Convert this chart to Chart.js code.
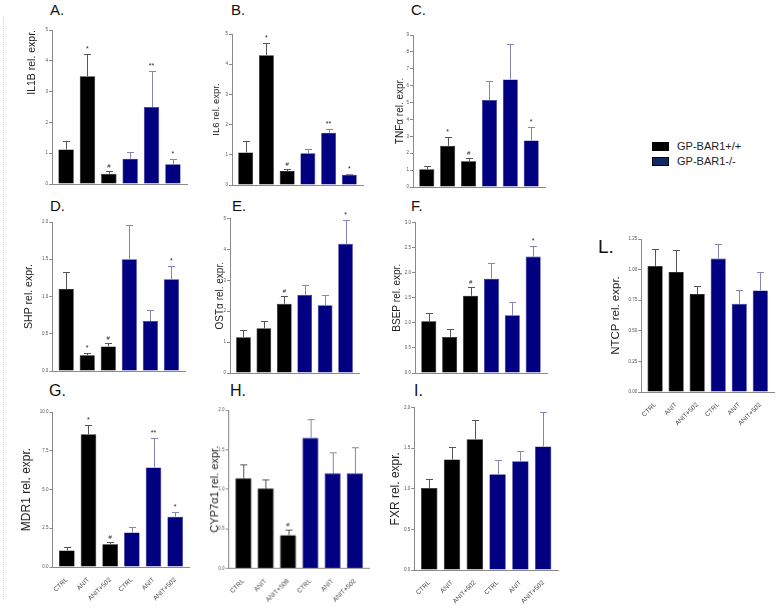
<!DOCTYPE html>
<html>
<head>
<meta charset="utf-8">
<script src="https://cdn.jsdelivr.net/npm/chart.js@4.4.1/dist/chart.umd.min.js"></script>
<style>
  body { margin: 0; background: #fff; }
  #page { position: relative; width: 776px; height: 613px; overflow: hidden; font-family: 'Liberation Sans', Arial, sans-serif; }
  .panel { position: absolute; }
  .tag { position: absolute; line-height: 1; color: #111; white-space: nowrap; }
  .frame { position: absolute; left: 3px; top: 17px; height: 582px; border-left: 1px dotted #d0d0d0; }
  .key { position: absolute; width: 15px; height: 7px; border: 1px solid #000; }
  .keytext { position: absolute; font-size: 11px; line-height: 1; color: #222; }
</style>
</head>
<body>
<div id="page">
  <div class="frame"></div>
  <div class="key" style="left:652px; top:142px; background:#000;"></div>
  <div class="keytext" style="left:677px; top:141px;">GP-BAR1+/+</div>
  <div class="key" style="left:652px; top:157px; background:#0b2a66;"></div>
  <div class="keytext" style="left:677px; top:156px;">GP-BAR1-/-</div>
</div>
<script>
// groups: 3 GP-BAR1+/+ then 3 GP-BAR1-/-
const categories = ['CTRL', 'ANIT', 'ANIT+502', 'CTRL', 'ANIT', 'ANIT+502'];
const categoriesH = ['CTRL', 'ANIT', 'ANIT+508', 'CTRL', 'ANIT', 'ANIT+502'];

const il1b = [1.12, 3.5, 0.33, 0.82, 2.5, 0.64];
const il1bErr = [0.27, 0.72, 0.08, 0.21, 1.18, 0.16];
const il1bSig = ['', '*', '#', '', '**', '*'];

const il6 = [1.08, 4.3, 0.46, 1.05, 1.73, 0.34];
const il6Err = [0.39, 0.39, 0.07, 0.13, 0.11, 0.03];
const il6Sig = ['', '*', '#', '', '**', '*'];

const tnfa = [1.05, 2.44, 1.52, 5.15, 6.37, 2.76];
const tnfaErr = [0.19, 0.54, 0.18, 1.14, 2.07, 0.77];
const tnfaSig = ['', '*', '#', '', '', '*'];

const shp = [1.10, 0.21, 0.33, 1.50, 0.67, 1.23];
const shpErr = [0.23, 0.03, 0.05, 0.46, 0.15, 0.18];
const shpSig = ['', '*', '#', '', '', '*'];

const osta = [1.16, 1.45, 2.24, 2.53, 2.19, 4.18];
const ostaErr = [0.22, 0.22, 0.26, 0.31, 0.34, 0.78];
const ostaSig = ['', '', '#', '', '', '*'];

const bsep = [1.03, 0.72, 1.54, 1.88, 1.15, 2.32];
const bsepErr = [0.16, 0.15, 0.17, 0.31, 0.26, 0.22];
const bsepSig = ['', '', '#', '', '', '*'];

const mdr1 = [1.07, 8.57, 1.46, 2.23, 6.42, 3.25];
const mdr1Err = [0.21, 0.62, 0.17, 0.34, 1.93, 0.28];
const mdr1Sig = ['', '*', '#', '', '**', '*'];

const cyp7a1 = [1.14, 1.01, 0.42, 1.65, 1.20, 1.20];
const cyp7a1Err = [0.17, 0.11, 0.07, 0.23, 0.27, 0.33];
const cyp7a1Sig = ['', '', '#', '', '', ''];

const fxr = [1.01, 1.36, 1.61, 1.18, 1.34, 1.52];
const fxrErr = [0.11, 0.16, 0.24, 0.17, 0.13, 0.43];
const fxrSig = ['', '', '', '', '', ''];

const ntcp = [1.03, 0.98, 0.80, 1.09, 0.72, 0.83];
const ntcpErr = [0.14, 0.18, 0.07, 0.12, 0.11, 0.15];
const ntcpSig = ['', '', '', '', '', ''];

// tick labels
const ticks0to5 = ['0', '1', '2', '3', '4', '5'];
const ticks0to9 = ['0', '1', '2', '3', '4', '5', '6', '7', '8', '9'];
const ticks0to2 = ['0.0', '0.5', '1.0', '1.5', '2.0'];
const ticks0to3 = ['0.0', '0.5', '1.0', '1.5', '2.0', '2.5', '3.0'];
const ticks0to10 = ['0.0', '2.5', '5.0', '7.5', '10.0'];
const ticks0to125 = ['0.00', '0.25', '0.50', '0.75', '1.00', '1.25'];

const black = '#000000';
const navy = '#000080';

Chart.defaults.font.family = "'Liberation Sans', Arial, sans-serif";
Chart.defaults.animation = false;

// error bars + significance marks on top of each bar
const errorBars = {
    id: 'errorBars',
    afterDatasetsDraw(chart, args, opts) {
        const ctx = chart.ctx;
        const y = chart.scales.y;
        const values = chart.data.datasets[0].data;
        ctx.save();
        chart.getDatasetMeta(0).data.forEach((bar, i) => {
            const x = Math.round(bar.x) + 0.5;
            const yTop = Math.round(y.getPixelForValue(values[i] + opts.err[i])) + 0.5;
            ctx.strokeStyle = i < 3 ? '#555555' : '#8585b8';
            ctx.lineWidth = 1;
            ctx.beginPath();
            ctx.moveTo(x, bar.y);
            ctx.lineTo(x, yTop);
            ctx.moveTo(x - 3.5, yTop);
            ctx.lineTo(x + 3.5, yTop);
            ctx.stroke();
            const mark = opts.sig[i];
            if (mark) {
                ctx.fillStyle = '#222';
                ctx.textAlign = 'center';
                ctx.textBaseline = 'bottom';
                ctx.font = mark === '#' ? "6px 'Liberation Sans'" : "7px 'Liberation Sans'";
                ctx.fillText(mark, bar.x, yTop - (mark === '#' ? 2 : 2));
            }
        });
        ctx.restore();
    }
};

const PAD = 0.66; // gap before first / after last bar, in categories

const panels = [
    { tag: 'A.', tagX: 50, tagY: 15, tagSize: 15, title: 'IL1B rel. expr.', labels: categories, values: il1b, err: il1bErr, sig: il1bSig, ticks: ticks0to5,
      titleX: 32.3, titleSize: 10.5, align: 'end', axisX: 52, top: 30, bottom: 184, right: 187, xLabels: false },
    { tag: 'B.', tagX: 231, tagY: 15, tagSize: 15, title: 'IL6 rel. expr.', labels: categories, values: il6, err: il6Err, sig: il6Sig, ticks: ticks0to5,
      titleX: 216.7, titleSize: 9.5, align: 'center', axisX: 232, top: 34, bottom: 185, right: 363, xLabels: false },
    { tag: 'C.', tagX: 411, tagY: 15, tagSize: 15, title: 'TNFα rel. expr.', labels: categories, values: tnfa, err: tnfaErr, sig: tnfaSig, ticks: ticks0to9,
      titleX: 400, titleSize: 10, align: 'center', axisX: 413, top: 35, bottom: 187, right: 545, xLabels: false },
    { tag: 'D.', tagX: 50, tagY: 211, tagSize: 15, title: 'SHP rel. expr.', labels: categories, values: shp, err: shpErr, sig: shpSig, ticks: ticks0to2,
      titleX: 29, titleSize: 10.5, align: 'center', axisX: 52, top: 222, bottom: 371, right: 185, xLabels: false },
    { tag: 'E.', tagX: 232, tagY: 211, tagSize: 15, title: 'OSTα rel. expr.', labels: categories, values: osta, err: ostaErr, sig: ostaSig, ticks: ticks0to5,
      titleX: 220, titleSize: 10, align: 'center', axisX: 230, top: 218.5, bottom: 373, right: 359, xLabels: false },
    { tag: 'F.', tagX: 411, tagY: 211, tagSize: 15, title: 'BSEP rel. expr.', labels: categories, values: bsep, err: bsepErr, sig: bsepSig, ticks: ticks0to3,
      titleX: 397, titleSize: 10, align: 'center', axisX: 415, top: 222.5, bottom: 373, right: 547, xLabels: false },
    { tag: 'G.', tagX: 49, tagY: 397, tagSize: 16, title: 'MDR1 rel. expr.', labels: categories, values: mdr1, err: mdr1Err, sig: mdr1Sig, ticks: ticks0to10,
      titleX: 25.7, titleSize: 12, align: 'center', axisX: 52, top: 412, bottom: 567, right: 189, xLabels: true },
    { tag: 'H.', tagX: 230, tagY: 397, tagSize: 16, title: 'CYP7α1 rel. expr.', labels: categoriesH, values: cyp7a1, err: cyp7a1Err, sig: cyp7a1Sig, ticks: ticks0to2,
      titleX: 215, titleSize: 11, align: 'center', axisX: 229, top: 410, bottom: 567.5, right: 369, xLabels: true },
    { tag: 'I.', tagX: 414, tagY: 397, tagSize: 16, title: 'FXR rel. expr.', labels: categories, values: fxr, err: fxrErr, sig: fxrSig, ticks: ticks0to2,
      titleX: 395, titleSize: 12, align: 'center', axisX: 414, top: 407.5, bottom: 570, right: 558, xLabels: true },
    { tag: 'L.', tagX: 598, tagY: 253, tagSize: 19, title: 'NTCP rel. expr.', labels: categories, values: ntcp, err: ntcpErr, sig: ntcpSig, ticks: ticks0to125,
      titleX: 615.7, titleSize: 11.5, align: 'center', axisX: 641, top: 239, bottom: 392, right: 774, xLabels: true }
];

const page = document.getElementById('page');

function makePanel(p) {
    const tag = document.createElement('div');
    tag.className = 'tag';
    tag.textContent = p.tag;
    tag.style.fontSize = p.tagSize + 'px';
    tag.style.left = p.tagX + 'px';
    tag.style.top = (p.tagY - 0.85 * p.tagSize) + 'px';
    page.appendChild(tag);

    const left = p.titleX - p.titleSize * 0.6;
    const top = Math.floor(p.top) - 14;
    const width = p.right + 5 - left;
    const height = p.bottom + (p.xLabels ? 44 : 6) - top;

    const box = document.createElement('div');
    box.className = 'panel';
    box.style.left = left + 'px';
    box.style.top = top + 'px';
    box.style.width = width + 'px';
    box.style.height = height + 'px';
    const canvas = document.createElement('canvas');
    box.appendChild(canvas);
    page.appendChild(box);

    const tickVals = p.ticks.map(Number);

    new Chart(canvas, {
        type: 'bar',
        data: {
            labels: p.labels,
            datasets: [{
                data: p.values,
                backgroundColor: p.values.map((v, i) => i < 3 ? black : navy),
                borderColor: p.values.map((v, i) => i < 3 ? black : '#2b2b95'),
                borderWidth: 0.6,
                barPercentage: 0.72,
                categoryPercentage: 1
            }]
        },
        options: {
            responsive: true,
            maintainAspectRatio: false,
            layout: { padding: { top: p.top - top, right: left + width - p.right, left: 0, bottom: 0 } },
            plugins: {
                legend: { display: false },
                tooltip: { enabled: false },
                errorBars: { err: p.err, sig: p.sig }
            },
            scales: {
                x: {
                    offset: true,
                    grid: { display: false },
                    border: { color: '#8a8a8a', width: 1 },
                    ticks: {
                        display: p.xLabels,
                        autoSkip: false,
                        maxRotation: 45,
                        minRotation: 45,
                        padding: 1,
                        color: '#444',
                        font: { size: 6.5 }
                    },
                    afterBuildTicks: s => {
                        s._startValue = -PAD;
                        s._valueRange = s.ticks.length - 1 + 2 * PAD;
                    },
                    afterFit: s => { s.height = top + height - p.bottom; }
                },
                y: {
                    min: tickVals[0],
                    max: tickVals[tickVals.length - 1],
                    grid: { drawOnChartArea: false, drawTicks: true, tickLength: 3, color: '#8a8a8a' },
                    border: { color: '#8a8a8a', width: 1 },
                    ticks: {
                        stepSize: tickVals[1] - tickVals[0],
                        padding: 1,
                        color: '#555',
                        font: { size: 4.5 },
                        callback: (v, i) => p.ticks[i]
                    },
                    title: {
                        display: true,
                        text: p.title,
                        align: p.align,
                        padding: 0,
                        color: '#222',
                        font: { size: p.titleSize }
                    },
                    afterFit: s => { s.width = p.axisX - left; }
                }
            }
        },
        plugins: [errorBars]
    });
}

panels.forEach(makePanel);
</script>
</body>
</html>
